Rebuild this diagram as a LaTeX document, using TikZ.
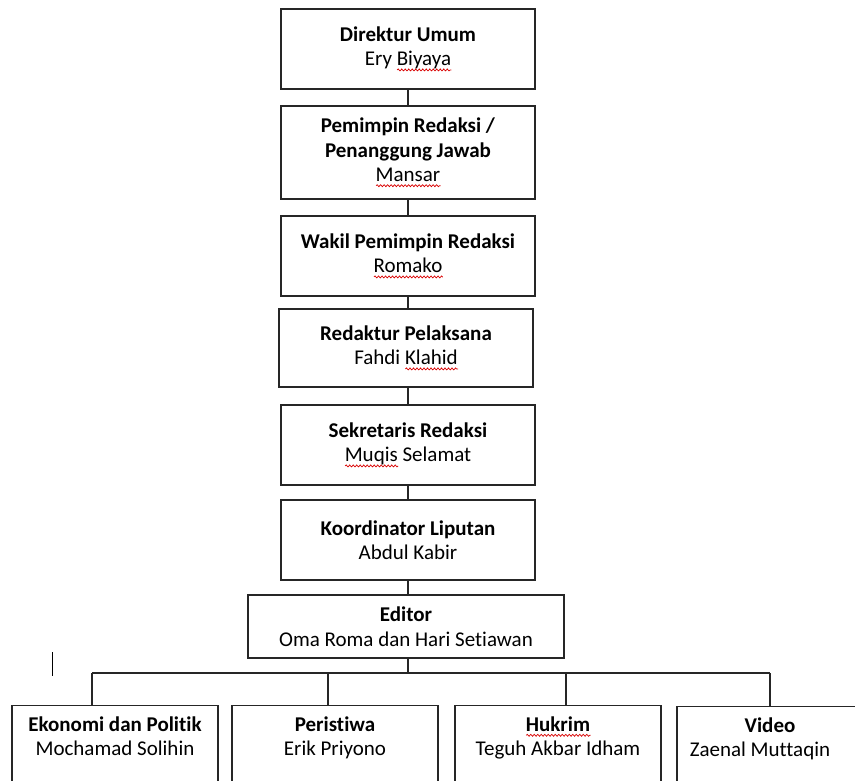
\documentclass[tikz,border=0pt]{standalone}
\usepackage{fontspec}
\setmainfont{Carlito}[Ligatures=NoCommon]
\usepackage{tikz}
\usetikzlibrary{decorations.pathmorphing}

\newsavebox{\typobox}
\newcommand{\typo}[1]{\sbox{\typobox}{#1}\rlap{\tikz[baseline=0pt, x=1pt, y=1pt]\draw[red!85!black, line width=.7pt, decorate, decoration={snake, amplitude=1pt, segment length=3.5pt}] (0,-4) -- (\wd\typobox,-4);}\usebox{\typobox}}

\tikzset{
    jabatan/.style={draw=black!85, line width=1.1pt, fill=white, align=center,
        font=\fontsize{21}{24.5}\selectfont, minimum width=254pt, minimum height=80pt, inner sep=0pt},
    desk/.style={jabatan, minimum width=206pt, anchor=north, inner ysep=11pt},
    garis/.style={draw=black!85, line width=1.1pt}
}

\begin{document}
\begin{tikzpicture}[x=1pt, y=-1pt]
            \useasboundingbox (0,0) rectangle (855,780);
            \clip (0,0) rectangle (855,780);

            \node[jabatan] (dirut) at (408,49) {\textbf{Direktur Umum}\\Ery \typo{Biyaya}};
            \node[jabatan, minimum height=93pt] (pemred) at (408,152.5) {\textbf{Pemimpin Redaksi /}\\\textbf{Penanggung Jawab}\\\typo{Mansar}};
            \node[jabatan] (wapemred) at (408,256) {\textbf{Wakil Pemimpin Redaksi}\\\typo{Romako}};
            \node[jabatan, minimum height=78pt] (redpel) at (406,348) {\textbf{Redaktur Pelaksana}\\Fahdi \typo{Klahid}};
            \node[jabatan] (sekred) at (408,445) {\textbf{Sekretaris Redaksi}\\\typo{Muqis} Selamat};
            \node[jabatan] (korlip) at (408,540) {\textbf{Koordinator Liputan}\\Abdul Kabir};
            \node[jabatan, minimum width=316pt, minimum height=63pt] (editor) at (406,626.5) {\textbf{Editor}\\Oma Roma dan Hari Setiawan};

            \node[desk] (ekopol) at (115,705) {\textbf{Ekonomi dan Politik}\\Mochamad Solihin\\[30pt]~};
            \node[desk] (peristiwa) at (335,705) {\textbf{Peristiwa}\\Erik Priyono\\[30pt]~};
            \node[desk] (hukrim) at (558,705) {\textbf{\typo{Hukrim}}\\Teguh Akbar Idham\\[30pt]~};
            \node[desk] (video) at (780,706) {\hspace*{-20pt}\textbf{Video}\\\hspace*{-40pt}Zaenal Muttaqin\\[30pt]~};

            \coordinate (b1) at (92,673);
            \coordinate (b2) at (328,673);
            \coordinate (b3) at (566,673);
            \coordinate (b4) at (770,673);

            \draw[garis] (dirut) -- (pemred);
            \draw[garis] (pemred) -- (wapemred);
            \draw[garis] (wapemred) -- (wapemred |- redpel.north);
            \draw[garis] (redpel.south -| sekred) -- (sekred);
            \draw[garis] (sekred) -- (korlip);
            \draw[garis] (korlip) -- (korlip |- editor.north);
            \draw[garis] (editor.south -| korlip) -- (korlip |- b1);
            \draw[garis] (b1) -- (b4);
            \draw[garis] (b1) -- (b1 |- ekopol.north);
            \draw[garis] (b2) -- (b2 |- peristiwa.north);
            \draw[garis] (b3) -- (b3 |- hukrim.north);
            \draw[garis] (b4) -- (b4 |- video.north);

            % kursor
            \draw[line width=1pt] (52,652) -- (52,676);
        \end{tikzpicture}
\end{document}
